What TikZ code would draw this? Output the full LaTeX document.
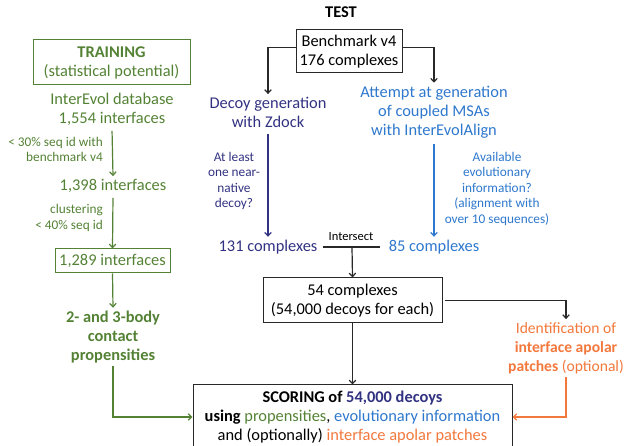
\documentclass[tikz,border=0pt]{standalone}
\usepackage{fontspec}
\setmainfont{Carlito}
\usetikzlibrary{arrows.meta}
\definecolor{tgreen}{RGB}{84,130,53}
\definecolor{tnavy}{RGB}{50,50,130}
\definecolor{tblue}{RGB}{46,120,205}
\definecolor{torange}{RGB}{242,120,60}
\definecolor{tblack}{RGB}{40,40,40}
\tikzset{
  big/.style={font=\fontsize{16.4}{19}\selectfont, align=center, inner sep=3pt},
  small/.style={font=\fontsize{13.3}{15.5}\selectfont, align=center, inner sep=2pt},
  gbox/.style={big, draw=tgreen, line width=1pt, text=tgreen},
  kbox/.style={big, draw=tblack, line width=1pt, text=black},
  arr/.style={line width=1.2pt, -{Straight Barb[length=3.5pt,width=6.5pt]}},
  garr/.style={arr, draw=tgreen},
  karr/.style={arr, draw=tblack},
  narr/.style={arr, draw=tnavy},
  barr/.style={arr, draw=tblue},
  oarr/.style={arr, draw=torange},
}
\begin{document}
\begin{tikzpicture}[x=1pt,y=-1pt]
\useasboundingbox (0,0) rectangle (627,446);
% ---------- TRAINING ----------
\node[gbox, minimum width=157pt, minimum height=45pt] (train) at (111.5,62.5) {\textbf{TRAINING}\\(statistical potential)};
\node[big, text=tgreen] (interevol) at (112,109.5) {InterEvol database\\1,554 interfaces};
\node[big, text=tgreen] (i1398) at (113,186) {1,398 interfaces};
\node[gbox, minimum width=115pt, minimum height=24pt, inner sep=1pt] (i1289) at (112.5,261) {1,289 interfaces};
\node[big, text=tgreen] (prop) at (113,337) {\textbf{2- and 3-body}\\\textbf{contact}\\\textbf{propensities}};
\draw[garr, shorten <=2pt] (interevol.south) -- (i1398.north);
\node[small, text=tgreen, anchor=east, align=right] (l1) at (105,149.5) {< 30\% seq id with\\benchmark v4};
\draw[garr, shorten <=2pt] (i1398.south) -- (i1289.north);
\node[small, text=tgreen, anchor=east, align=right] (l2) at (105,218) {clustering\\< 40\% seq id};
\draw[garr] (i1289.south) -- ([yshift=0pt]prop.north);
% ---------- TEST ----------
\node[big, font=\fontsize{16.4}{19}\selectfont\bfseries] (test) at (341,12) {TEST};
\node[kbox, minimum width=106pt, minimum height=43pt, inner sep=1pt] (bench) at (349,51.5) {Benchmark v4\\176 complexes};
\node[big, text=tnavy] (decoy) at (268,112.5) {Decoy generation\\with Zdock};
\node[big, text=tblue] (attempt) at (434,112) {Attempt at generation\\of coupled MSAs\\with InterEvolAlign};
\draw[karr] ([yshift=4pt]bench.west) -| (decoy.north);
\draw[karr] ([yshift=4pt]bench.east) -| (attempt.north);
\node[big, text=tnavy] (c131) at (268,247) {131 complexes};
\node[big, text=tblue] (c85) at (434,247) {85 complexes};
\draw[narr, shorten <=3pt] (decoy.south) -- (c131.north);
\draw[barr, shorten <=3pt] (attempt.south) -- (c85.north);
\node[small, text=tnavy] (q1) at (234,181) {At least\\one near-\\native\\decoy?};
\node[small, text=tblue] (q2) at (497,188.5) {Available\\evolutionary\\information?\\(alignment with\\over 10 sequences)};
\draw[line width=1.2pt, draw=tblack] ([xshift=2pt]c131.east) -- ([xshift=-6pt]c85.west);
\node[font=\fontsize{12.5}{14}\selectfont, inner sep=1pt] (isect) at (351,237) {Intersect};
\coordinate (mid) at (352,247);
\node[kbox, minimum width=179pt, minimum height=45pt, inner sep=1pt] (c54) at (352.5,300.5) {54 complexes\\(54,000 decoys for each)};
\draw[karr] (mid) -- (c54.north);
\node[big, font=\fontsize{15.6}{19}\selectfont, text=torange] (ident) at (566,348) {Identification of\\\textbf{interface apolar}\\\textbf{patches} (optional)};
\draw[karr] ([xshift=2pt]c54.east) -| (ident.north);
\node[kbox, minimum width=319pt, minimum height=64pt, inner sep=1pt] (score) at (352.5,417) {\textbf{SCORING of \textcolor{tnavy}{54,000 decoys}}\\\textbf{using} \textcolor{tgreen}{propensities}, \textcolor{tblue}{evolutionary information}\\and (optionally) \textcolor{torange}{interface apolar patches}};
\draw[karr] (c54.south) -- (score.north);
\draw[garr] (prop.south) |- (score.west);
\draw[oarr] (ident.south) |- (score.east);
\end{tikzpicture}
\end{document}
